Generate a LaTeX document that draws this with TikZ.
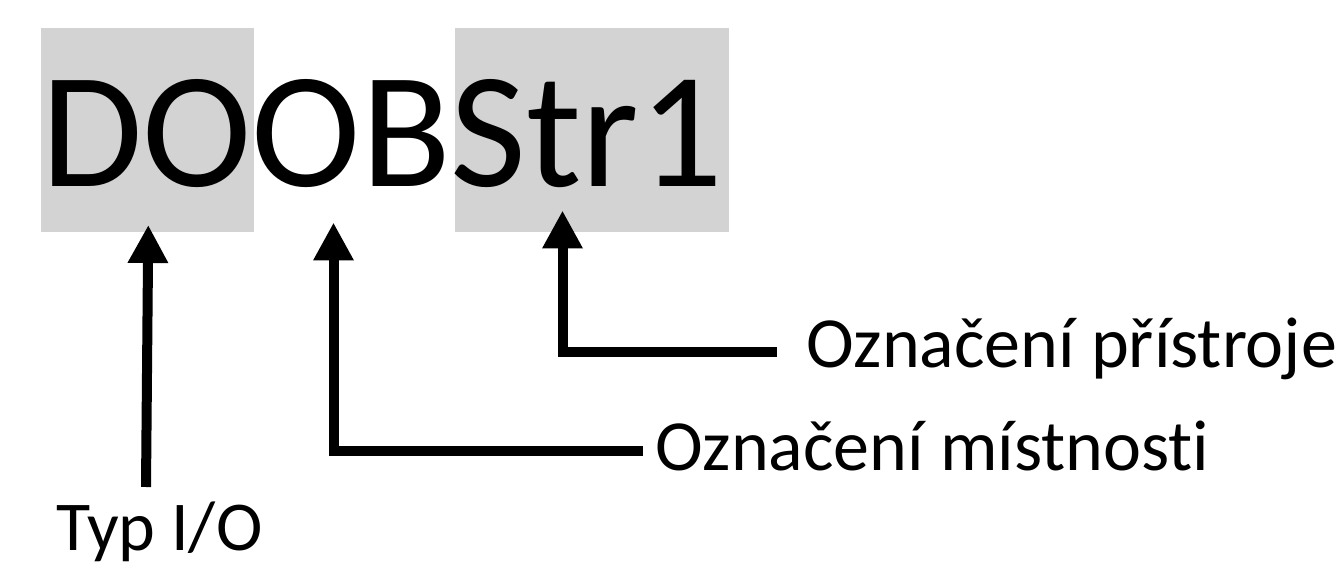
\documentclass[tikz,border=0pt]{standalone}
\usepackage{fontspec}
\setmainfont{Carlito}[RawFeature={-liga;-dlig;-clig}]
\usetikzlibrary{arrows.meta}
\definecolor{boxgray}{RGB}{211,211,211}
\begin{document}
\begin{tikzpicture}[x=1pt,y=-1pt,
  graybox/.style={fill=boxgray,draw=none},
  pointer/.style={line width=10pt,line join=miter,
    -{Triangle[width=38pt,length=38pt]}},
  lbl/.style={anchor=base west,inner sep=0pt,font=\fontsize{72}{86}\selectfont}]
\useasboundingbox (0,0) rectangle (1339,577);
% gray highlight boxes
\fill[graybox] (41,28) rectangle (254,232);
\fill[graybox] (455,28) rectangle (729,232);
% main code
\node[anchor=base west,inner sep=0pt,font=\fontsize{165}{190}\selectfont] (code) at (41,187) {DOOBStr1};
% labels
\node[lbl] (lab3) at (806,367) {Označení přístroje};
\node[lbl] (lab2) at (655,470) {Označení místnosti};
\node[lbl,font=\fontsize{70}{84}\selectfont] (lab1) at (56,550) {Typ I/O};
% arrow ends
\coordinate (s1) at (146,487);
\coordinate (t1) at (148.3,225);
\coordinate (s2) at (643,451);
\coordinate (t2) at (333.5,222.5);
\coordinate (s3) at (777,352);
\coordinate (t3) at (562.5,210.5);
\draw[pointer] (s1) -- (t1);
\draw[pointer] (s2) -| (t2);
\draw[pointer] (s3) -| (t3);
\end{tikzpicture}
\end{document}
